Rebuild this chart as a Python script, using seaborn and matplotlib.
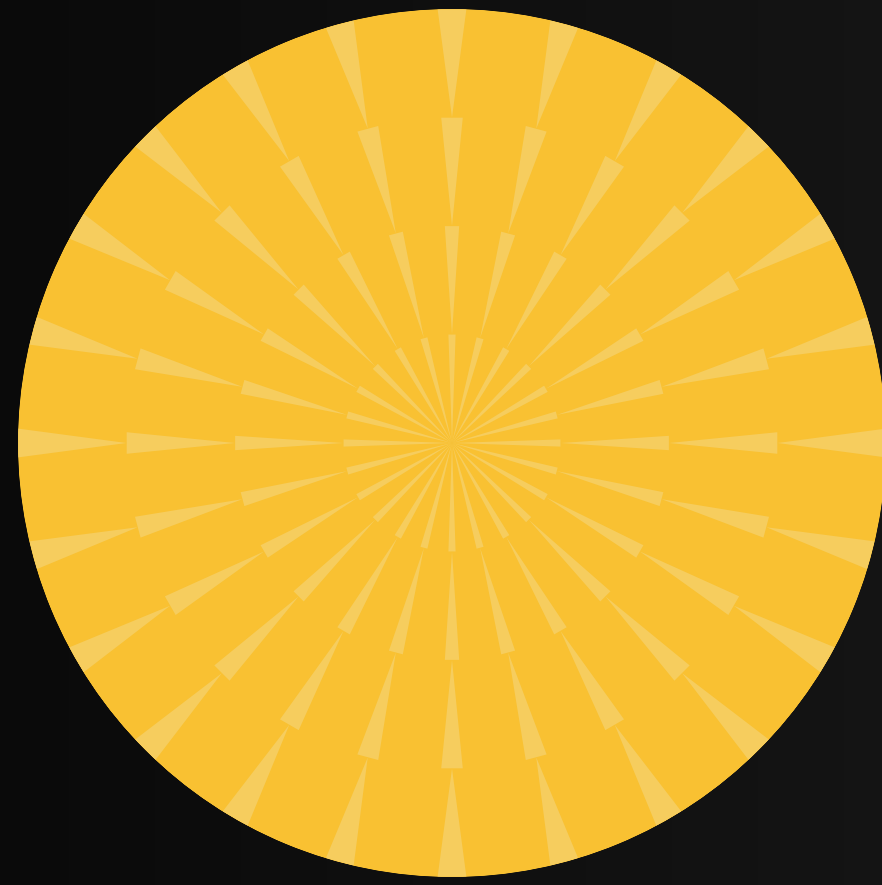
import numpy as np
import matplotlib
matplotlib.use("Agg")
import matplotlib.pyplot as plt
import seaborn as sns

# ---- data ----
sector_angles_deg = [i * 15 for i in range(24)]          # 24 spokes
ring_values = [1, 1, 1, 1]                               # 4 stacked rings of equal value
ray_half_width_deg = 1.9                                 # half-angle of light rays at ring outer edge

bar_color = "#F9C132"
ray_color = "#F6CD5E"

sns.set_theme(style="white")
plt.rcParams["font.family"] = ["DejaVu Sans"]

W, H = 882, 885
fig = plt.figure(figsize=(W / 100, H / 100), dpi=100)
fig.patch.set_facecolor("#0f0f0f")

# dark gradient background
bg = fig.add_axes([0, 0, 1, 1])
grad = np.linspace(0.04, 0.08, 256)[None, :]
bg.imshow(np.dstack([grad, grad, grad]), aspect="auto", extent=[0, 1, 0, 1])
bg.set_axis_off()

cx, cy, R = 452, 885 - 443, 434
ax = fig.add_axes([(cx - R) / W, (cy - R) / H, 2 * R / W, 2 * R / H], projection="polar")
ax.set_facecolor("none")

total = sum(ring_values)
step = np.deg2rad(sector_angles_deg[1] - sector_angles_deg[0])

# full underlay so seams between segments are invisible
ax.bar(0, total, width=2 * np.pi, bottom=0, color=bar_color, linewidth=0)

theta_centers = np.deg2rad(sector_angles_deg) + step / 2
bottom = 0
for v in ring_values:
    ax.bar(theta_centers, [v] * len(theta_centers), width=step, bottom=bottom,
           color=bar_color, linewidth=0, align="center")
    bottom += v

a = np.deg2rad(ray_half_width_deg)
bottom = 0
for v in ring_values:
    r_in, r_out = bottom, bottom + v
    for d in sector_angles_deg:
        t = np.deg2rad(d)
        ax.fill([t, t - a, t + a], [r_in, r_out, r_out], color=ray_color, linewidth=0)
    bottom += v

ax.set_ylim(0, total)
ax.axis("off")

fig.savefig("out.png", dpi=100, facecolor=fig.get_facecolor())
